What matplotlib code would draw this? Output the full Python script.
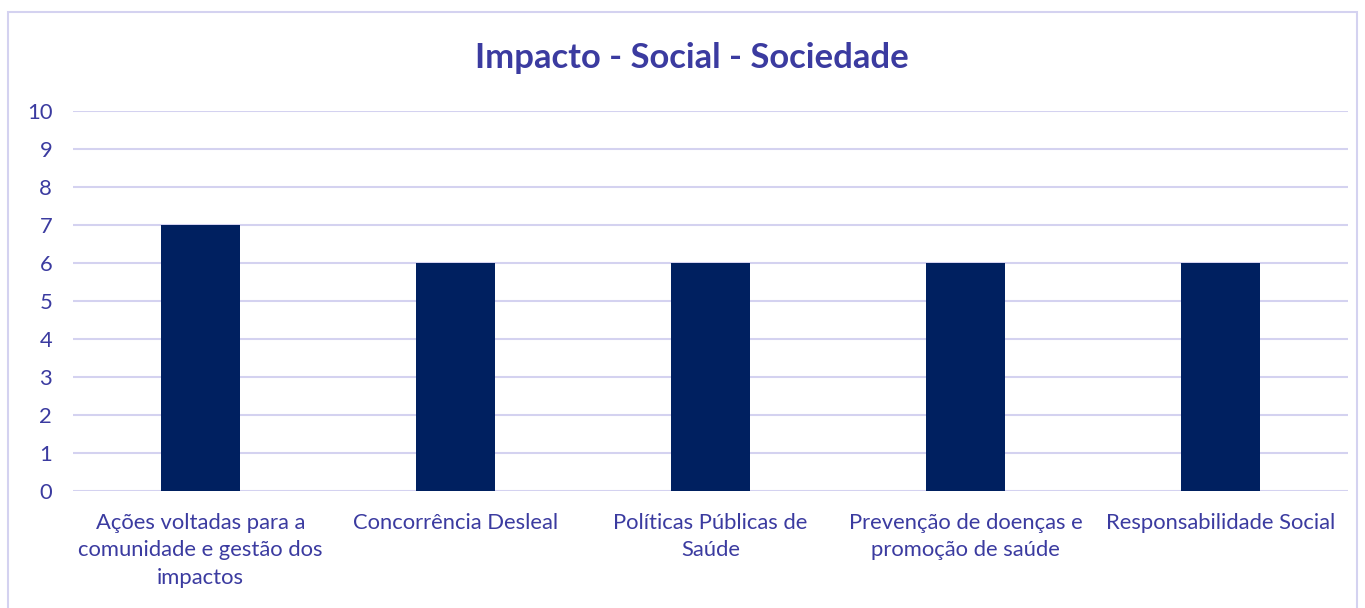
import matplotlib.pyplot as plt
from matplotlib.patches import Rectangle

# Data
categories = ['Ações voltadas para a\ncomunidade e gestão dos\nimpactos',
              'Concorrência Desleal',
              'Políticas Públicas de\nSaúde',
              'Prevenção de doenças e\npromoção de saúde',
              'Responsabilidade Social']
values = [7, 6, 6, 6, 6]
yticks = list(range(0, 11))

text_color = '#3B3BA0'
grid_color = '#D4D2F0'
bar_color = '#002060'

plt.rcParams['font.family'] = ['Lato', 'DejaVu Sans']

fig = plt.figure(figsize=(13.65, 6.08), dpi=100)
ax = fig.add_axes([0.0535, 0.1924, 0.934, 0.625])

x = range(len(categories))
ax.bar(x, values, width=0.31, color=bar_color, zorder=3)

ax.set_xlim(-0.5, len(categories) - 0.5)
ax.set_ylim(0, 10)
ax.set_yticks(yticks)
ax.set_xticks(list(x))
ax.set_xticklabels(categories, fontsize=15.8, color=text_color, linespacing=1.45)
ax.tick_params(axis='y', labelsize=15.8, labelcolor=text_color, length=0, pad=15)
ax.tick_params(axis='x', length=0, pad=16)
ax.grid(axis='y', color=grid_color, linewidth=1.5, zorder=0)
for s in ax.spines.values():
    s.set_visible(False)

fig.text(0.507, 0.905, 'Impacto - Social - Sociedade', fontsize=24.9, fontweight='bold',
         color=text_color, ha='center', va='center')

# chart border
fig.patches.append(Rectangle((8 / 1365, -0.05), 1349 / 1365, 1.05 - 12 / 608,
                             transform=fig.transFigure, fill=False,
                             edgecolor=grid_color, linewidth=1.5))

plt.savefig('out.png', dpi=100)
